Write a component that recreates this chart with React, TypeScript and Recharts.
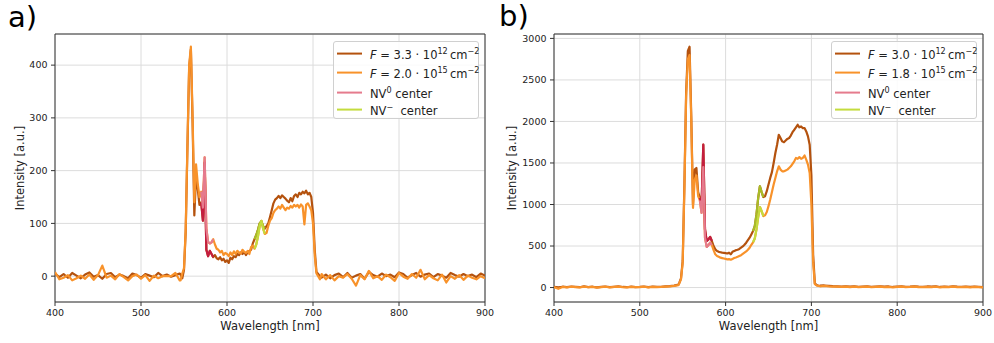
import React from "react";
import {
  LineChart,
  Line,
  XAxis,
  YAxis,
  CartesianGrid,
  ReferenceArea,
  Label,
} from "recharts";

const BROWN = "#b4520e";
const ORANGE = "#f8922a";
const PINK = "#e57b8d";
const CRIMSON = "#c41d3f";
const LIME = "#c4dc3e";
const OLIVE = "#a8bd28";
const FONT = "DejaVu Sans";

// wavelength grid [nm]
const wavelength = [
  400, 405, 410, 415, 420, 425, 430, 435, 440, 445, 450, 455, 460, 465, 470,
  475, 480, 485, 490, 495, 500, 505, 510, 515, 520, 525, 530, 535, 540, 545,
  546, 548, 550, 552, 554, 556, 558, 560, 562, 564, 566, 568, 570, 572, 574,
  576, 578, 580, 582, 584, 586, 588, 590, 592, 594, 596, 598, 600, 602, 604,
  606, 608, 610, 612, 614, 616, 618, 620, 622, 624, 626, 628, 630, 632, 634,
  636, 638, 640, 642, 644, 646, 648, 650, 652, 654, 656, 658, 660, 662, 664,
  666, 668, 670, 672, 674, 676, 678, 680, 682, 684, 686, 688, 690, 692, 694,
  696, 698, 700, 702, 704, 706, 708, 710,
  715, 720, 725, 730, 735, 740, 745, 750, 755, 760, 765, 770, 775, 780, 785,
  790, 795, 800, 805, 810, 815, 820, 825, 830, 835, 840, 845, 850, 855, 860,
  865, 870, 875, 880, 885, 890, 895, 900,
];

// panel a) intensities
const lowA = [
  5, -2, 4, -3, 6, 1, -4, 3, 7, -1, 2, -5, 4, 6, -2, 3, 0, -4, 5, 2, -3, 4, 1,
  -2, 6, 0, 3, -1, 2, 5,
  3, -4, 12, 85, 245, 395, 430, 290, 115, 190, 165, 135, 140, 105, 215, 50, 38,
  48, 42, 36, 40, 34, 32, 36, 30, 33, 27, 30, 25, 35, 32, 38, 36, 42, 40, 45,
  42, 46, 40, 45, 48, 50, 62, 70, 78, 88, 100, 104, 95, 90, 95, 100, 112, 125,
  138, 145, 148, 152, 148, 153, 150, 147, 143, 140, 148, 142, 152, 155, 150,
  158, 155, 160, 157, 162, 155, 158, 150, 120, 50, 8, 4, 0, -3,
  3, -4, 2, 5, -2, 6, -3, 1, 4, -5, 8, 2, -1, 5, 0, 3, -2, 7, 4, -3, 2, 6, -1,
  3, 5, -2, 4, 1, -3, 6, 2, -1, 4, 0, 3, -2, 5, 1,
];
const highA = [
  8, -6, -3, 2, -8, -4, 1, -5, 3, -7, 2, 20, -3, 1, -6, 4, -2, -8, 0, 3, -5, 2,
  -9, 1, -4, 0, 0, 0, 6, -8,
  -8, 5, 15, 90, 250, 400, 435, 300, 140, 212, 175, 150, 160, 130, 225, 90, 65,
  62, 64, 70, 60, 52, 50, 45, 48, 40, 44, 42, 38, 45, 40, 47, 42, 48, 45, 43,
  50, 46, 44, 48, 42, 55, 58, 52, 60, 75, 95, 105, 90, 80, 82, 95, 105, 110,
  120, 125, 128, 132, 128, 135, 130, 125, 130, 128, 133, 130, 135, 132, 135,
  130, 136, 132, 98, 135, 138, 132, 125, 100, 40, 5, 0, -6, 4,
  -6, 2, -8, 0, -3, 4, -5, -18, 2, -6, 10, -4, 0, -7, 3, -2, -9, 6, -1, -5, 4,
  -3, 12, -6, 2, -4, -8, 3, -12, 0, -5, 2, -7, 1, -3, -6, 0, -4,
];

// panel b) intensities
const lowB = [
  8, 2, 10, 5, 12, 8, 4, 14, 6, 10, 3, 8, 12, 5, 9, 14, 7, 4, 11, 6, 8, 12, 5,
  10, 7, 9, 14, 18, 24, 35,
  55, 110, 320, 1250, 2350, 2850, 2900, 2050, 1000, 1420, 1440, 1150, 1080,
  1000, 1720, 700, 560, 580, 610, 560, 500, 460, 440, 430, 425, 420, 418, 415,
  410, 420, 400, 430, 440, 450, 455, 465, 480, 495, 515, 540, 570, 600, 640,
  680, 740, 880, 1080, 1220, 1150, 1090, 1100, 1160, 1240, 1320, 1390, 1500,
  1620, 1720, 1840, 1800, 1760, 1750, 1770, 1790, 1800, 1830, 1870, 1900, 1930,
  1960, 1930, 1940, 1920, 1920, 1880, 1820, 1720, 1350, 400, 50, 30, 25, 22,
  25, 20, 16, 14, 12, 15, 10, 14, 9, 12, 15, 8, 11, 14, 10, 13, 7, 12, 14, 9,
  11, 15, 10, 8, 13, 10, 14, 7, 12, 9, 14, 10, 8, 12, 7, 11, 9, 6,
];
const highB = [
  5, -15, 8, 3, 10, 6, 2, 12, 4, 8, 0, 6, 10, 3, 7, 12, 5, 2, 9, 4, 6, 10, 3, 8,
  5, 7, 12, 15, 20, 30,
  50, 100, 300, 1200, 2300, 2750, 2800, 2000, 960, 1300, 1350, 1100, 1050, 900,
  1450, 600, 490, 510, 540, 510, 450, 400, 380, 370, 360, 355, 350, 345, 340,
  342, 335, 345, 355, 362, 370, 380, 390, 405, 420, 435, 455, 480, 515, 545,
  590, 700, 850, 970, 920, 860, 870, 910, 980, 1060, 1150, 1240, 1320, 1400,
  1460, 1420, 1400, 1400, 1410, 1420, 1440, 1460, 1490, 1520, 1560, 1550, 1570,
  1550, 1560, 1590, 1540, 1480, 1380, 1000, 300, 40, 25, 20, 15,
  20, 15, 12, 10, 8, 12, 6, 10, 5, 8, 12, 4, 7, 10, 6, 9, 3, 8, 11, 5, 7, 12, 6,
  4, 9, 6, 10, 3, 8, 5, 11, 6, 4, 8, 3, 7, 5, 2,
];

// emission bands that get highlighted [nm]
const nv0Band = [570, 584];
const nvMinusBand = [632, 644];

const xTicks = [400, 500, 600, 700, 800, 900];
const yTicksA = [0, 100, 200, 300, 400];
const yTicksB = [0, 500, 1000, 1500, 2000, 2500, 3000];

const toRows = (values: number[]) =>
  wavelength.map((wl, i) => ({ wl, v: values[i] }));

const band = (values: number[], range: number[]) =>
  toRows(values).filter((r) => r.wl >= range[0] && r.wl <= range[1]);

const sup = { fontSize: "0.7em" };

const Fluence = ({ m, e }: { m: string; e: string }) => (
  <span>
    <i>F</i> = {m} · 10<sup style={sup}>{e}</sup>{"\u2009"}cm
    <sup style={sup}>−2</sup>
  </span>
);

const LegendBox = ({ left, fluence }: { left: number; fluence: string[][] }) => {
  const entries = [
    { color: BROWN, text: <Fluence m={fluence[0][0]} e={fluence[0][1]} /> },
    { color: ORANGE, text: <Fluence m={fluence[1][0]} e={fluence[1][1]} /> },
    {
      color: PINK,
      text: (
        <span>
          NV<sup style={sup}>0</sup> center
        </span>
      ),
    },
    {
      color: LIME,
      text: (
        <span>
          NV<sup style={sup}>−</sup>  center
        </span>
      ),
    },
  ];
  const rowY = [11.6, 31, 51, 68];
  return (
    <div
      style={{
        position: "absolute",
        left,
        top: 40.5,
        width: 146,
        height: 78.5,
        border: "1px solid #d0d0d0",
        borderRadius: 3,
        background: "rgba(255,255,255,0.85)",
        boxSizing: "border-box",
        fontSize: 11.5,
        color: "#222",
      }}
    >
      {entries.map((e, i) => (
        <div
          key={i}
          style={{
            position: "absolute",
            left: 3,
            top: rowY[i],
            transform: "translateY(-50%)",
            display: "flex",
            alignItems: "center",
            whiteSpace: "pre",
            lineHeight: "14px",
          }}
        >
          <div style={{ width: 25, height: 2, background: e.color }} />
          <div style={{ marginLeft: 8 }}>{e.text}</div>
        </div>
      ))}
    </div>
  );
};

type PanelProps = {
  left: number;
  yAxisWidth: number;
  rightMargin: number;
  low: number[];
  high: number[];
  domain: number[];
  yTicks: number[];
  labelOffset: number;
};

const Panel = (p: PanelProps) => {
  const lineProps = {
    dot: false,
    activeDot: false,
    isAnimationActive: false,
    strokeWidth: 2.2,
    strokeLinejoin: "round" as const,
  };
  return (
    <div style={{ position: "absolute", left: p.left, top: 0 }}>
      <LineChart
        width={497}
        height={343}
        margin={{ top: 34, right: p.rightMargin, left: 0, bottom: 0 }}
      >
        <CartesianGrid stroke="#dcdcdc" />
        <XAxis
          dataKey="wl"
          type="number"
          domain={[400, 900]}
          ticks={xTicks}
          allowDataOverflow
          height={41}
          axisLine={false}
          tickSize={4}
          tickMargin={3}
          tickLine={{ stroke: "#333" }}
          tick={{ fontSize: 9.5, fill: "#222" }}
        >
          <Label
            value="Wavelength [nm]"
            position="insideBottom"
            offset={13}
            style={{ fontSize: 11.5, fill: "#222" }}
          />
        </XAxis>
        <YAxis
          type="number"
          domain={p.domain}
          ticks={p.yTicks}
          allowDataOverflow
          width={p.yAxisWidth}
          axisLine={false}
          tickSize={4}
          tickMargin={3.5}
          tickLine={{ stroke: "#333" }}
          tick={{ fontSize: 9.5, fill: "#222" }}
        >
          <Label
            value="Intensity [a.u.]"
            position="insideLeft"
            angle={-90}
            offset={p.labelOffset}
            textAnchor="middle"
            style={{ fontSize: 11.5, fill: "#222" }}
          />
        </YAxis>
        <Line data={toRows(p.low)} dataKey="v" stroke={BROWN} {...lineProps} />
        <Line data={toRows(p.high)} dataKey="v" stroke={ORANGE} {...lineProps} />
        <Line data={band(p.low, nv0Band)} dataKey="v" stroke={CRIMSON} {...lineProps} />
        <Line data={band(p.high, nv0Band)} dataKey="v" stroke={PINK} {...lineProps} />
        <Line data={band(p.low, nvMinusBand)} dataKey="v" stroke={OLIVE} {...lineProps} />
        <Line data={band(p.high, nvMinusBand)} dataKey="v" stroke={LIME} {...lineProps} />
        <ReferenceArea
          x1={400}
          x2={900}
          y1={p.domain[0]}
          y2={p.domain[1]}
          fill="none"
          stroke="#333"
          strokeWidth={1}
          fillOpacity={0}
        />
      </LineChart>
    </div>
  );
};

export default function App() {
  return (
    <div
      style={{
        position: "absolute",
        left: 0,
        top: 0,
        width: 994,
        height: 343,
        fontFamily: FONT,
        background: "#fff",
      }}
    >
      <Panel
        left={0}
        yAxisWidth={55}
        rightMargin={12}
        low={lowA}
        high={highA}
        domain={[-49, 459]}
        yTicks={yTicksA}
        labelOffset={20}
      />
      <Panel
        left={497}
        yAxisWidth={57}
        rightMargin={11}
        low={lowB}
        high={highB}
        domain={[-174, 3053]}
        yTicks={yTicksB}
        labelOffset={15}
      />
      <LegendBox left={333} fluence={[["3.3", "12"], ["2.0", "15"]]} />
      <LegendBox left={831} fluence={[["3.0", "12"], ["1.8", "15"]]} />
      <div style={{ position: "absolute", left: 8, top: 2.5, fontSize: 29, lineHeight: 1 }}>
        a)
      </div>
      <div style={{ position: "absolute", left: 499, top: 1.5, fontSize: 29, lineHeight: 1 }}>
        b)
      </div>
    </div>
  );
}
